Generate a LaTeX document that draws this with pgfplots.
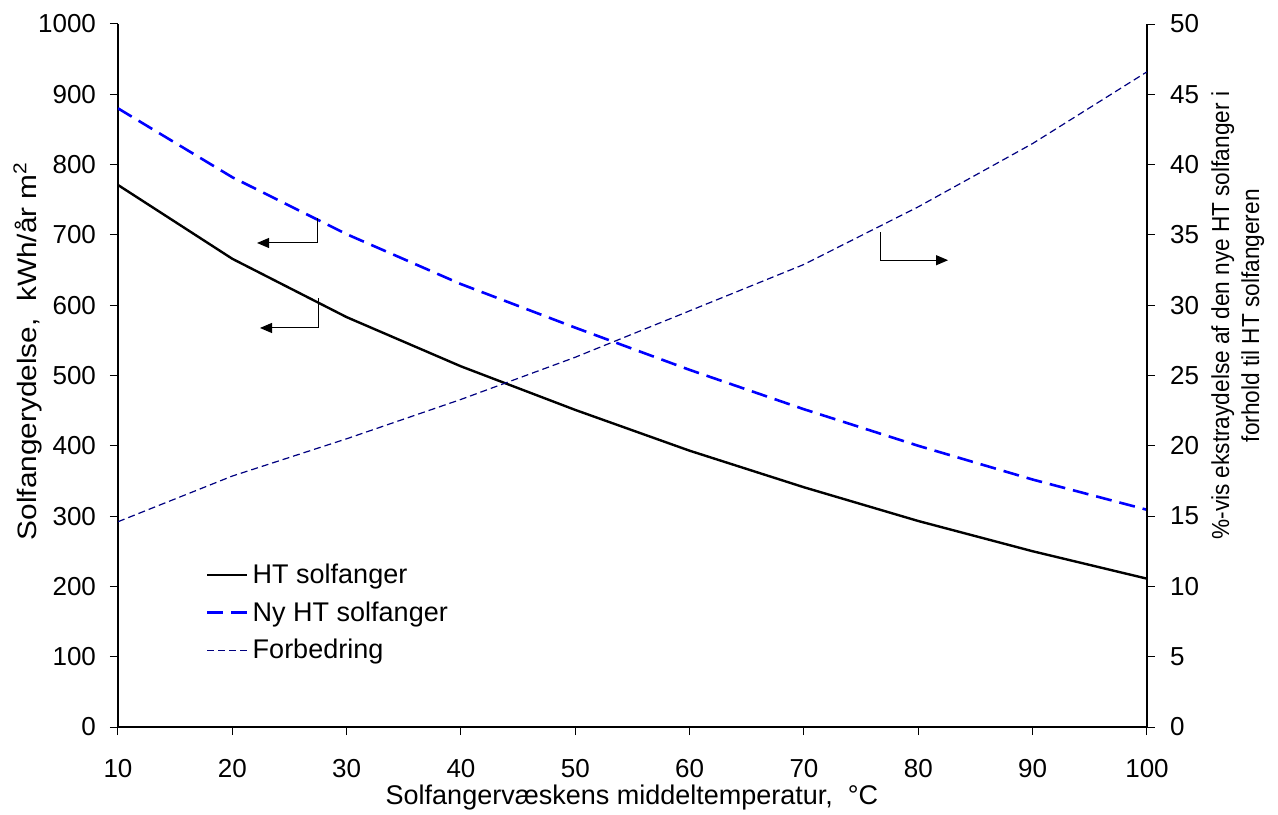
\documentclass[border=0pt]{standalone}
\usepackage{pgfplots}
\pgfplotsset{compat=1.18}
\usepackage{fontspec}
\setmainfont{Liberation Sans}
\usetikzlibrary{arrows.meta}
\definecolor{navyc}{HTML}{000080}
\definecolor{bluec}{HTML}{0000FF}
\begin{document}
\begin{tikzpicture}[font=\fontsize{13}{15}\selectfont]
\useasboundingbox (-59pt,-43.5pt) rectangle (580pt,363.5pt);
\pgfplotsset{
  common/.style={
    scale only axis, width=514.5pt, height=351.5pt,
    xmin=10, xmax=100,
    /pgf/number format/assume math mode=true,
    /pgf/number format/1000 sep={},
    tick align=outside, tick style={black, line width=0.5pt, major tick length=4pt},
    axis line style={line width=0.6pt},
  }
}
\begin{axis}[common,
  ymin=0, ymax=1000,
  axis y line*=left, axis x line*=bottom,
  xtick={10,20,...,100}, ytick={0,100,...,1000},
  xticklabel style={yshift=-8.5pt},
  yticklabel style={xshift=-3.5pt},
  xlabel={\fontsize{13.5}{15}\selectfont Solfangervæskens middeltemperatur,\ \ °C},
  ylabel={\scalebox{1.12}[1]{\fontsize{13.3}{16}\selectfont Solfangerydelse,\ \ kWh/år m\textsuperscript{2}}},
  xlabel style={at={(axis description cs:0.4995,-0.0996)}, anchor=center},
  ylabel style={at={(axis description cs:-0.0875,0.535)}, anchor=center},
  legend style={draw=none, fill=none, at={(axis cs:17.15,244)}, anchor=north west,
    row sep=3.5pt, font=\fontsize{13.5}{15}\selectfont},
  legend cell align=left,
  legend image code/.code={\draw[#1] (0pt,0pt) -- (20pt,0pt);},
]
\addplot[black, line width=1.2pt] coordinates {
(10,771) (20,666) (30,583) (40,513) (50,451) (60,393) (70,341) (80,293) (90,250) (100,211)
};
\addlegendentry{HT solfanger}
\addplot[bluec, line width=1.3pt, dash pattern=on 8pt off 4pt] coordinates {
(10,880) (20,782) (30,701) (40,630) (50,568) (60,508) (70,452) (80,400) (90,352) (100,309)
};
\addlegendentry{Ny HT solfanger}
\addlegendimage{navyc, line width=0.6pt, dash pattern=on 3.5pt off 2pt}
\addlegendentry{Forbedring}
\draw[black, line width=0.5pt, -{Triangle[length=6pt,width=5pt]}] (axis cs:27.49,724) -- (axis cs:27.49,688.5) -- (axis cs:22.16,688.5);
\draw[black, line width=0.5pt, -{Triangle[length=6pt,width=5pt]}] (axis cs:27.58,610) -- (axis cs:27.58,567.6) -- (axis cs:22.42,567.6);
\draw[black, line width=0.5pt, -{Triangle[length=6pt,width=5pt]}] (axis cs:76.65,704) -- (axis cs:76.65,664) -- (axis cs:82.6,664);
\end{axis}
\begin{axis}[common,
  ymin=0, ymax=50,
  axis y line*=right, axis x line=none,
  ytick={0,5,...,50},
  yticklabel style={xshift=4pt},
  ylabel={\scalebox{0.92}[1]{\fontsize{12.3}{15}\selectfont\begin{tabular}{@{}c@{}}\%-vis ekstraydelse af den nye HT solfanger i\\forhold til HT solfangeren\end{tabular}}},
  ylabel style={at={(axis description cs:1.0885,0.585)}, anchor=center},
]
\addplot[navyc, line width=0.6pt, dash pattern=on 3.5pt off 2pt] coordinates {
(10,14.6) (20,17.85) (30,20.5) (40,23.3) (50,26.3) (60,29.6) (70,32.9) (80,37.0) (90,41.5) (100,46.6)
};
\end{axis}
\end{tikzpicture}
\end{document}
